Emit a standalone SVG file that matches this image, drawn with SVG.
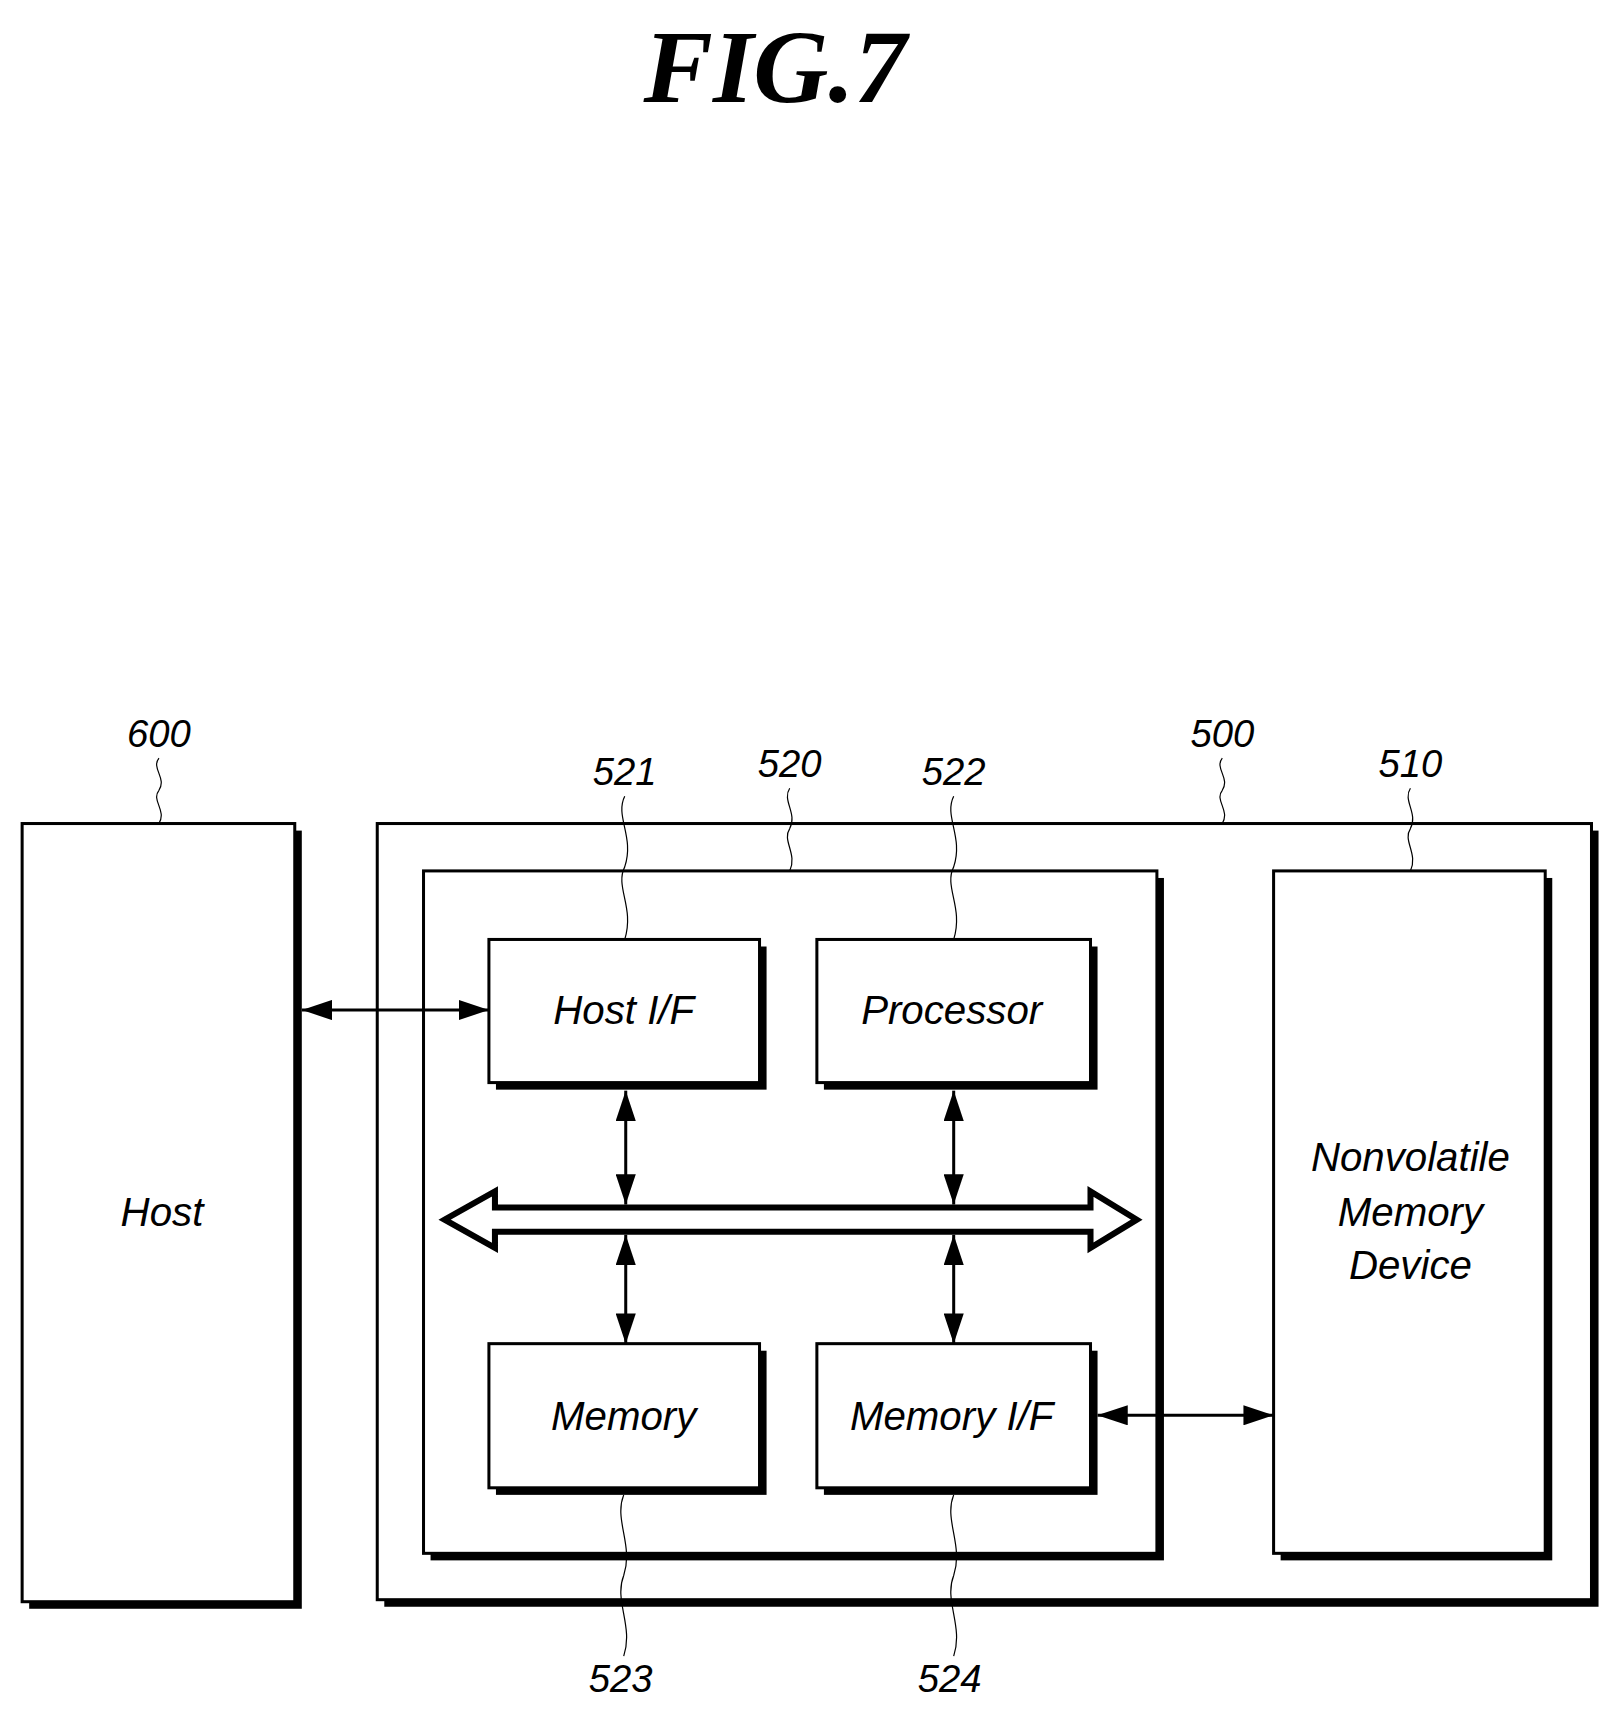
<svg xmlns="http://www.w3.org/2000/svg" width="1624" height="1715" viewBox="0 0 1624 1715">
<style>
.b{fill:#fff;stroke:#000;stroke-width:3}
.s{fill:#000}
.t{font-family:"Liberation Sans",Arial,sans-serif;font-style:italic;font-size:40px;text-anchor:middle;fill:#000}
.n{font-family:"Liberation Sans",Arial,sans-serif;font-style:italic;font-size:38px;text-anchor:middle;fill:#000}
.q{fill:none;stroke:#000;stroke-width:1.2}
.c{stroke:#000;stroke-width:3;fill:none}
</style>
<defs>
<marker id="m" viewBox="0 0 30 20" refX="30" refY="10" markerWidth="30" markerHeight="20" markerUnits="userSpaceOnUse" orient="auto-start-reverse"><path d="M0,0 L30,10 L0,20 z" fill="#000"/></marker>
</defs>
<text x="775" y="102" font-family="Liberation Serif,serif" font-style="italic" font-weight="bold" font-size="104" text-anchor="middle">FIG.7</text>
<g transform="scale(1.006,1.008)">
<g id="host">
<rect class="s" x="29" y="824" width="271" height="772"/>
<rect class="b" x="22" y="817" width="271" height="772"/>
<text class="t" x="161" y="1216">Host</text>
<text class="n" x="158" y="741">600</text>
<path class="q" d="M158,752 c-8,10 8,20 0,32 c-8,10 8,20 0,33"/>
</g>
<g id="n500">
<rect class="s" x="382" y="824" width="1207" height="770"/>
<rect class="b" x="375" y="817" width="1207" height="770"/>
<text class="n" x="1215" y="741">500</text>
<path class="q" d="M1215,752 c-8,10 8,20 0,32 c-8,10 8,20 0,33"/>
</g>
<g id="n520">
<rect class="s" x="428" y="871" width="729" height="677"/>
<rect class="b" x="421" y="864" width="729" height="677"/>
<text class="n" x="785" y="771">520</text>
<path class="q" d="M785,782 c-8,12 8,25 0,40 c-8,12 8,25 0,42"/>
</g>
<g id="n510">
<rect class="s" x="1273" y="871" width="270" height="677"/>
<rect class="b" x="1266" y="864" width="270" height="677"/>
<text class="t" x="1402" y="1162">Nonvolatile</text>
<text class="t" x="1402" y="1216">Memory</text>
<text class="t" x="1402" y="1269">Device</text>
<text class="n" x="1402" y="771">510</text>
<path class="q" d="M1402,782 c-8,12 8,25 0,40 c-8,12 8,25 0,42"/>
</g>
<g id="n521">
<rect class="s" x="493" y="939" width="269" height="142"/>
<rect class="b" x="486" y="932" width="269" height="142"/>
<text class="t" x="620" y="1016">Host I/F</text>
<text class="n" x="621" y="779">521</text>
<path class="q" d="M621,790 c-10,20 10,40 0,70 c-10,20 10,40 0,72"/>
</g>
<g id="n522">
<rect class="s" x="819" y="939" width="272" height="142"/>
<rect class="b" x="812" y="932" width="272" height="142"/>
<text class="t" x="946" y="1016">Processor</text>
<text class="n" x="948" y="779">522</text>
<path class="q" d="M948,790 c-10,20 10,40 0,70 c-10,20 10,40 0,72"/>
</g>
<g id="n523">
<rect class="s" x="493" y="1340" width="269" height="143"/>
<rect class="b" x="486" y="1333" width="269" height="143"/>
<text class="t" x="620" y="1419">Memory</text>
<text class="n" x="617" y="1679">523</text>
<path class="q" d="M620,1483 c-10,25 10,50 0,80 c-10,25 10,50 0,80"/>
</g>
<g id="n524">
<rect class="s" x="819" y="1340" width="272" height="143"/>
<rect class="b" x="812" y="1333" width="272" height="143"/>
<text class="t" x="946" y="1419">Memory I/F</text>
<text class="n" x="944" y="1679">524</text>
<path class="q" d="M948,1483 c-10,25 10,50 0,80 c-10,25 10,50 0,80"/>
</g>
<g id="connectors">
<path d="M442,1210 L492,1182 L492,1198 L1084,1198 L1084,1182 L1130,1210 L1084,1238 L1084,1222 L492,1222 L492,1238 Z" fill="#fff" stroke="#000" stroke-width="6" stroke-linejoin="miter"/>
<line class="c" x1="300" y1="1002" x2="486" y2="1002" marker-start="url(#m)" marker-end="url(#m)"/>
<line class="c" x1="1091" y1="1404" x2="1266" y2="1404" marker-start="url(#m)" marker-end="url(#m)"/>
<line class="c" x1="622" y1="1082" x2="622" y2="1195" marker-start="url(#m)" marker-end="url(#m)"/>
<line class="c" x1="948" y1="1082" x2="948" y2="1195" marker-start="url(#m)" marker-end="url(#m)"/>
<line class="c" x1="622" y1="1225" x2="622" y2="1333" marker-start="url(#m)" marker-end="url(#m)"/>
<line class="c" x1="948" y1="1225" x2="948" y2="1333" marker-start="url(#m)" marker-end="url(#m)"/>
</g>
</g>
</svg>
